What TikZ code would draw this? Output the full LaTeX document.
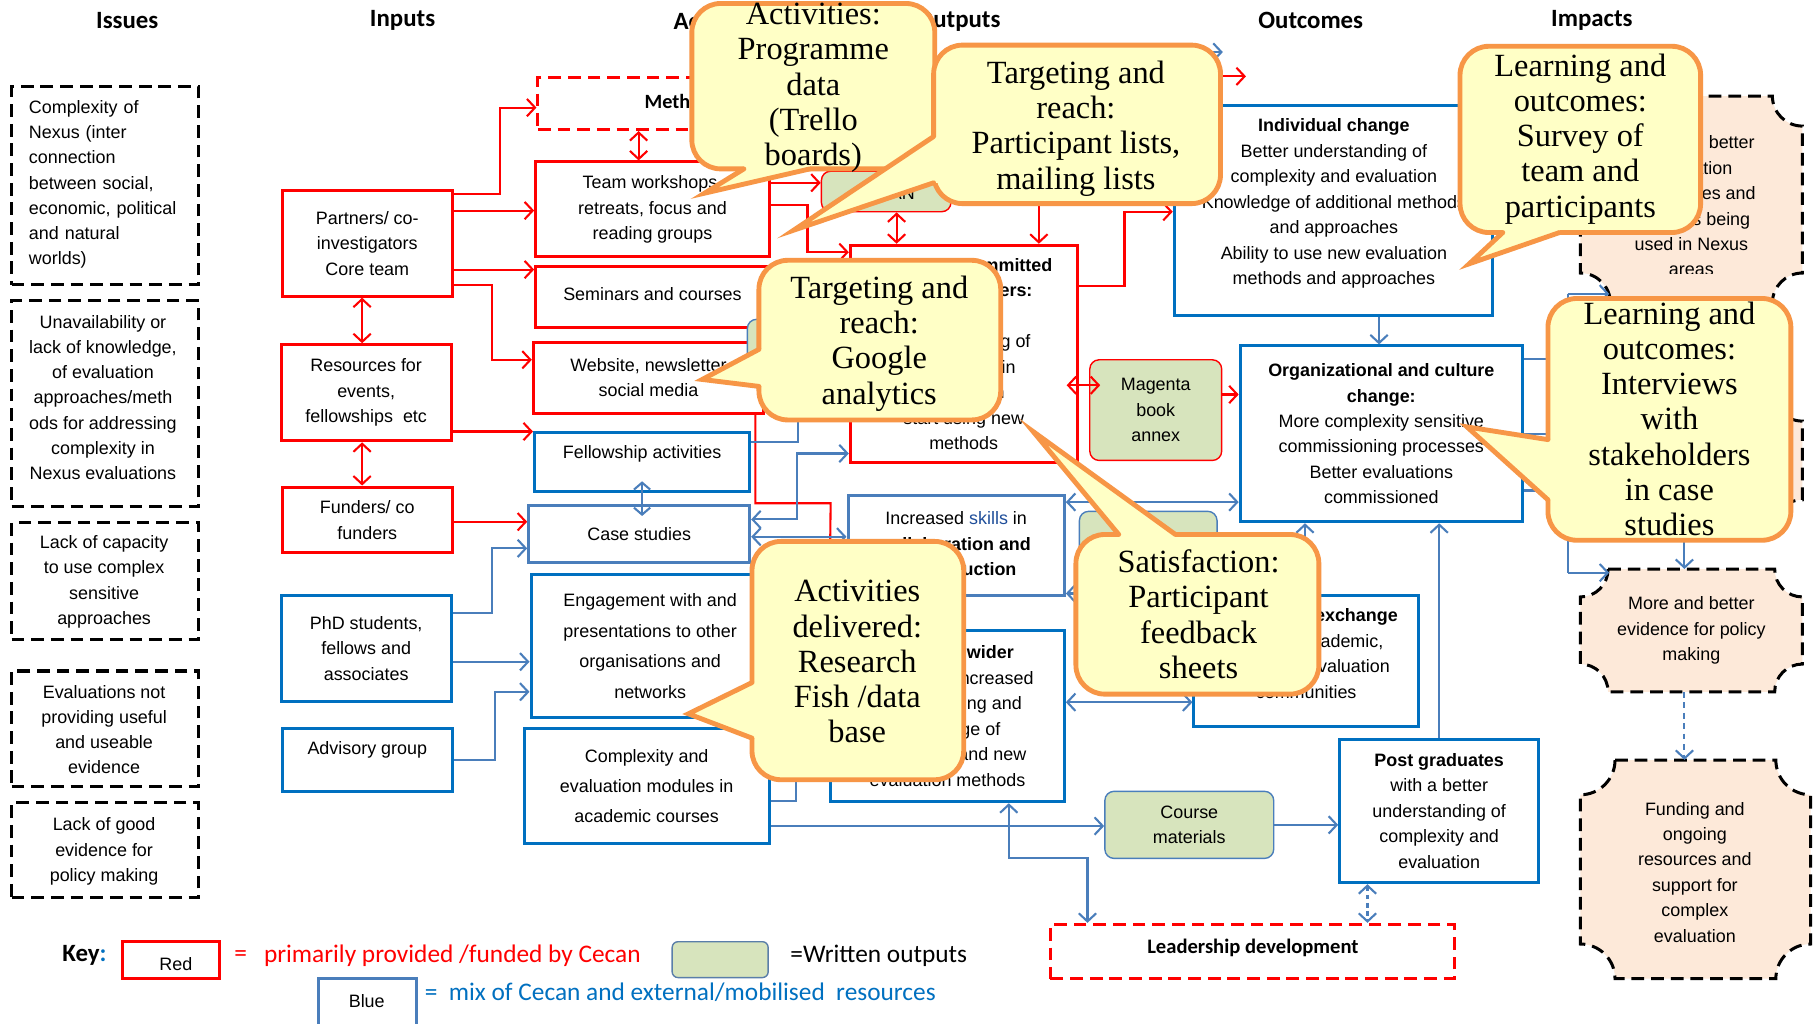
\documentclass[tikz,border=0pt]{standalone}
\usepackage{fontspec}
\setsansfont{Liberation Sans}
\newfontfamily\calfont{Carlito}
\newfontfamily\serfont{Liberation Serif}
\usetikzlibrary{arrows.meta,calc}

\definecolor{cred}{HTML}{FF0000}
\definecolor{cblue}{HTML}{0070C0}
\definecolor{clblue}{HTML}{4A7EBB}
\definecolor{cgreen}{HTML}{D7E4BD}
\definecolor{cpeach}{HTML}{FDE9D9}
\definecolor{cyel}{HTML}{FFFFC6}
\definecolor{corange}{HTML}{F79646}
\definecolor{cnavy}{HTML}{1F4E9A}

\newcommand{\bxf}{\sffamily\fontsize{15.5}{22}\selectfont}
\newcommand{\bxfw}{\sffamily\fontsize{15.5}{26.3}\selectfont}
\newcommand{\isf}{\sffamily\fontsize{15.5}{21.8}\selectfont}
\newcommand{\hdf}{\calfont\bfseries\fontsize{21.5}{24}\selectfont}
\newcommand{\kyf}{\calfont\fontsize{21.9}{24}\selectfont}
\newcommand{\clf}{\serfont\fontsize{28}{30.5}\selectfont}

% plaque outline with concave corners: style, x0, y0, x1, y1, radius
\newcommand{\plaque}[6]{%
  \path[#1] ({#2+#6},#3) -- ({#4-#6},#3)
    .. controls ({#4-#6},{#3+0.552*#6}) and ({#4-0.552*#6},{#3+#6}) .. (#4,{#3+#6})
    -- (#4,{#5-#6})
    .. controls ({#4-0.552*#6},{#5-#6}) and ({#4-#6},{#5-0.552*#6}) .. ({#4-#6},#5)
    -- ({#2+#6},#5)
    .. controls ({#2+#6},{#5-0.552*#6}) and ({#2+0.552*#6},{#5-#6}) .. (#2,{#5-#6})
    -- (#2,{#3+#6})
    .. controls ({#2+0.552*#6},{#3+#6}) and ({#2+#6},{#3+0.552*#6}) .. cycle;}

% speech bubble: x0, y0, x1, y1, wedge base 1, wedge tip, wedge base 2, inward shift
\newcommand{\bubble}[8]{%
  \fill[cyel,rounded corners=25pt] (#1,#2) rectangle (#3,#4);
  \draw[corange,line width=4.2pt,rounded corners=25pt] (#1,#2) rectangle (#3,#4);
  \fill[cyel] ($(#5)+(#8)$) -- (#5) -- (#6) -- (#7) -- ($(#7)+(#8)$) -- cycle;
  \draw[corange,line width=4.2pt,line cap=round,line join=miter] (#5) -- (#6) -- (#7);}

\begin{document}
\begin{tikzpicture}[x=1pt,y=-1pt,
  sbox/.style={draw,line width=2.6pt,fill=white,align=center,inner sep=2pt,font=\bxf},
  redbox/.style={sbox,draw=cred},
  bluebox/.style={sbox,draw=cblue},
  lbluebox/.style={sbox,draw=clblue},
  issue/.style={draw=black,line width=2.6pt,dash pattern=on 11pt off 6pt,minimum width=162pt,inner sep=0pt},
  rdash/.style={draw=cred,line width=2.6pt,dash pattern=on 11pt off 6pt,inner sep=0pt},
  gbox/.style={fill=cgreen,rounded corners=8pt,line width=1.2pt,align=center,font=\bxf,inner sep=2pt},
  txt/.style={align=center,inner sep=0pt,font=\bxf},
  itxt/.style={align=center,inner sep=0pt,font=\isf},
  hdr/.style={inner sep=0pt,font=\hdf},
  ctext/.style={align=center,inner sep=0pt,font=\clf},
  bline/.style={draw=clblue,line width=1.8pt},
  rarr/.style={draw=cred,line width=1.8pt,-{Straight Barb[length=7pt,width=15pt]}},
  rdbl/.style={draw=cred,line width=1.8pt,{Straight Barb[length=7pt,width=15pt]}-{Straight Barb[length=7pt,width=15pt]}},
  barr/.style={draw=clblue,line width=1.8pt,-{Straight Barb[length=7pt,width=15pt]}},
  bdbl/.style={draw=clblue,line width=1.8pt,{Straight Barb[length=7pt,width=15pt]}-{Straight Barb[length=7pt,width=15pt]}},
  imp/.style={fill=cpeach,draw=black,line width=2.6pt,dash pattern=on 11pt off 6pt}
]
\useasboundingbox (0,0) rectangle (1568,885);
\fill[white] (0,0) rectangle (1568,885);

% column headings
\node[hdr] (hIssues) at (110,18) {Issues};
\node[hdr] (hInputs) at (348,18) {Inputs};
\node[hdr,anchor=west] (hAct) at (582,18) {Activities};
\node[hdr,anchor=east] (hOut) at (865,18) {Outputs};
\node[hdr] (hOutc) at (1133,18) {Outcomes};
\node[hdr] (hImp) at (1376,18) {Impacts};

% issues
\node[issue,minimum height=171pt] (is1) at (91,160.5) {};
\node[itxt,text width=136pt,align=left] (is1t) at (93,159.5) {Complexity of\\Nexus (inter\\connection\\between social,\\economic, political\\and natural\\worlds)};
\node[issue,minimum height=178pt] (is2) at (91,349) {};
\node[itxt] (is2t) at (89,343.5) {Unavailability or\\lack of knowledge,\\of evaluation\\approaches/meth\\ods for addressing\\complexity in\\Nexus evaluations};
\node[issue,minimum height=101pt] (is3) at (91,502.5) {};
\node[itxt] (is3t) at (90,503) {Lack of capacity\\to use complex\\sensitive\\approaches};
\node[issue,minimum height=100pt] (is4) at (91,630) {};
\node[itxt] (is4t) at (90,630.5) {Evaluations not\\providing useful\\and useable\\evidence};
\node[issue,minimum height=82pt] (is5) at (91,735) {};
\node[itxt] (is5t) at (90,736) {Lack of good\\evidence for\\policy making};

% inputs
\node[redbox,minimum width=147pt,minimum height=91pt] (partners) at (317.5,210.5) {Partners/ co-\\investigators\\Core team};
\node[redbox,minimum width=147pt,minimum height=83pt] (resources) at (316.5,339.5) {Resources for\\events,\\fellowships\ \ etc};
\node[redbox,minimum width=147pt,minimum height=57pt] (funders) at (317.5,449.5) {Funders/ co\\funders};
\node[bluebox,minimum width=147pt,minimum height=91pt] (phd) at (316.5,560.5) {PhD students,\\fellows and\\associates};
\node[bluebox,minimum width=147pt,minimum height=54pt] (advisory) at (317.5,657) {};
\node[txt] (advisoryT) at (317.5,648) {Advisory group};

% activities
\node[rdash,minimum width=200pt,minimum height=45pt] (methods) at (565,89.5) {};
\node[anchor=west,inner sep=0pt,font=\calfont\bfseries\fontsize{17.5}{20}\selectfont] (methodsT) at (557,88) {Methods};
\node[redbox,minimum width=202pt,minimum height=82pt] (team) at (564,181) {Team workshops,\\retreats, focus and\\reading groups};
\node[redbox,minimum width=202pt,minimum height=53pt] (seminars) at (564,256.5) {};
\node[txt] (seminarsT) at (564,254) {Seminars and courses};
\node[redbox,minimum width=199pt,minimum height=61pt] (website) at (560.5,326.5) {Website, newsletter\\social media};
\node[bluebox,minimum width=186pt,minimum height=51pt] (fellowship) at (555,399.5) {};
\node[txt] (fellowshipT) at (555,392) {Fellowship activities};
\node[lbluebox,minimum width=191pt,minimum height=49pt] (casest) at (552.5,461.5) {Case studies};
\node[bluebox,minimum width=206pt,minimum height=123pt,font=\bxfw] (engage) at (562,558.5) {Engagement with and\\presentations to other\\organisations and\\networks};
\node[bluebox,minimum width=212pt,minimum height=99pt,font=\bxfw] (modules) at (559,679.5) {Complexity and\\evaluation modules in\\academic courses};

% outputs
\node[gbox,draw=clblue,minimum width=114pt,minimum height=59pt] (greend) at (703,305.5) {};
\node[gbox,draw=cred,minimum width=112pt,minimum height=35pt] (nbox) at (766,165.5) {};
\node[txt,anchor=east] (nboxT) at (791,167) {CECAN};
\node[redbox,minimum width=196pt,minimum height=188pt] (committed) at (833,306) {\textbf{Informed, committed}\\\textbf{commissioners:}\\~\\understanding of\\complexity in\\evaluation\\start using new\\methods};
\node[gbox,draw=cred,minimum width=114pt,minimum height=87pt] (magenta) at (999,354.5) {Magenta\\book\\annex};
\node[lbluebox,minimum width=187pt,minimum height=87pt] (skills) at (826.5,471.5) {Increased \textcolor{cnavy}{skills} in\\\textbf{collaboration and}\\\textbf{co-production}};
\node[gbox,draw=clblue,minimum width=119pt,minimum height=48pt] (greenc) at (992.5,466) {};
\node[bluebox,minimum width=202pt,minimum height=148pt] (wider) at (819,619) {\textbf{Reaching wider}\\audiences: Increased\\understanding and\\knowledge of\\complexity and new\\evaluation methods};
\node[bluebox,minimum width=194pt,minimum height=113pt] (knowledge) at (1129,571.5) {};
\node[txt] (knowledgeT) at (1129,565) {\textbf{Knowledge exchange}\\between academic,\\policy and evaluation\\communities};
\node[gbox,draw=clblue,minimum width=146pt,minimum height=58pt] (course) at (1028,713) {Course\\materials};
\node[rdash,minimum width=349pt,minimum height=47pt] (leader) at (1082.5,822.5) {};
\node[inner sep=0pt,font=\calfont\bfseries\fontsize{17.8}{20}\selectfont] (leaderT) at (1083,819) {Leadership development};

% outcomes
\node[bluebox,minimum width=275pt,minimum height=182pt] (indiv) at (1152.5,182) {};
\node[txt] (indivT) at (1153,176) {\textbf{Individual change}\\Better understanding of\\complexity and evaluation\\Knowledge of additional methods\\and approaches\\Ability to use new evaluation\\methods and approaches};
\node[bluebox,minimum width=244pt,minimum height=152pt] (org) at (1194,375) {\textbf{Organizational and culture}\\\textbf{change:}\\More complexity sensitive\\commissioning processes\\Better evaluations\\commissioned};
\node[bluebox,minimum width=172pt,minimum height=124pt] (postg) at (1244,701) {\textbf{Post graduates}\\with a better\\understanding of\\complexity and\\evaluation};

% impacts
\plaque{imp}{1366}{83}{1558}{262}{26}
\node[inner sep=0pt,minimum width=192pt,minimum height=179pt] (imp1) at (1462,172.5) {};
\begin{scope}
  \clip (1366,83) rectangle (1558,236);
  \node[txt] (imp1T) at (1462,178) {More and better\\evaluation\\approaches and\\methods being\\used in Nexus\\areas};
\end{scope}
\plaque{imp}{1366}{338}{1558}{458}{26}
\node[inner sep=0pt,minimum width=192pt,minimum height=120pt] (imp2) at (1462,398) {};
\plaque{imp}{1366}{492}{1558}{598}{24}
\node[inner sep=0pt,minimum width=192pt,minimum height=106pt] (imp3) at (1462,545) {};
\node[txt] (imp3T) at (1462,545) {More and better\\evidence for policy\\making};
\plaque{imp}{1366}{657}{1565}{846}{30}
\node[inner sep=0pt,minimum width=199pt,minimum height=189pt] (imp4) at (1465.5,751.5) {};
\node[txt] (imp4T) at (1465,754) {Funding and\\ongoing\\resources and\\support for\\complex\\evaluation};

% inputs to activities
\draw[rarr] (partners.east |- 0,168) -| (432,93) -- (methods.west |- 0,93);
\draw[rarr] (partners.east |- 0,182) -- (team.west |- 0,182);
\draw[rarr] (partners.east |- 0,233) -- (seminars.west |- 0,233);
\draw[rarr] (partners.east |- 0,246) -| (425,311) -- (website.west |- 0,311);
\draw[rdbl] (partners.south -| 313,0) -- (resources.north -| 313,0);
\draw[rdbl] (resources.south -| 313,0) -- (funders.north -| 313,0);
\draw[rarr] (resources.east |- 0,373) -- (fellowship.west |- 0,373);
\draw[rarr] (funders.east |- 0,451) -- (casest.west |- 0,451);
\draw[barr] (phd.east |- 0,530) -| (425,474) -- (casest.west |- 0,474);
\draw[barr] (phd.east |- 0,572) -- (engage.west |- 0,572);
\draw[barr] (advisory.east |- 0,657) -| (428,598) -- (engage.west |- 0,598);

% activities to outputs
\draw[rdbl] (methods.south -| 552,0) -- (team.north -| 552,0);
\coordinate (fa) at (555,416);
\coordinate (fb) at (555,446);
\draw[draw=clblue,line width=1.8pt,{Straight Barb[length=6pt,width=14pt]}-{Straight Barb[length=6pt,width=14pt]}] (fa) -- (fb);
\draw[rarr] (team.east |- 0,158) -- (nbox.west |- 0,158);
\draw[rarr] (team.east |- 0,177) -| (698,218) -- (committed.west |- 0,218);
\draw[rarr] (website.south -| 653,0) |- (718,435) -- (wider.north west);
\draw[barr] (fellowship.east |- 0,382) -| (greend.south -| 690,0);
\draw[bdbl] (casest.east |- 0,449) -| (689,392) -- (committed.west |- 0,392);
\draw[bdbl] (casest.east |- 0,464) -- (skills.west |- 0,464);
\draw[barr] (modules.east |- 0,692) -| (688,620) -- (wider.west |- 0,620);
\draw[barr] (modules.east |- 0,714) -- (course.west |- 0,714);
\draw[bdbl] (wider.south -| 872,0) |- (940,742) -- (leader.north -| 940,0);

% outputs to outcomes
\draw[rdbl] (nbox.south -| 775,0) -- (committed.north -| 775,0);
\coordinate (cA) at (898,150);
\draw[rarr] (cA) -- (committed.north -| cA);
\draw[rarr] (committed.east |- 0,247) -| (972,183) -- (indiv.west |- 0,183);
\coordinate (ma) at (922,333);
\coordinate (mb) at (951,333);
\draw[rdbl] (ma) -- (mb);
\draw[rarr] (magenta.east |- 0,341) -- (org.west |- 0,341);
\coordinate (cB) at (1030,66);
\coordinate (cBe) at (1077,66);
\draw[rarr] (cB) -- (cBe);
\coordinate (cC) at (1000,45);
\coordinate (cCe) at (1057,45);
\draw[barr] (cC) -- (cCe);
\draw[bdbl] (skills.east |- 0,434) -- (org.west |- 0,434);
\draw[bdbl] (wider.east |- 0,607) -- (knowledge.west |- 0,607);
\coordinate (cD) at (990,513);
\draw[barr] (cD) -- (skills.east |- cD);
\draw[barr] (knowledge.north -| 1128,0) -- (org.south -| 1128,0);
\draw[barr] (course.east) -- (postg.west |- course.east);
\draw[bdbl,dash pattern=on 4pt off 3pt] (postg.south -| 1182,0) -- (leader.north -| 1182,0);
\draw[barr] (postg.north -| 1244,0) -- (org.south -| 1244,0);
\draw[barr] (indiv.south -| 1192,0) -- (org.north -| 1192,0);

% outcomes to impacts
\coordinate (bus1) at (1355,254);
\coordinate (bus2) at (1355,495);
\draw[bline] (org.east |- 0,310) -- (bus1 |- 0,310);
\draw[bline] (org.east |- 0,375) -- (bus1 |- 0,375);
\draw[bline] (org.east |- 0,424) -- (bus1 |- 0,424);
\draw[bline] (bus1) -- (bus2);
\draw[barr] (bus1) -- ++(36,0);
\draw[barr] (bus2) -- ++(36,0);
\draw[barr] (bus1 |- 0,400) -- (imp2.west |- 0,400);
\draw[barr] (imp2.south -| 1456,0) -- (imp3.north -| 1456,0);
\draw[barr,dash pattern=on 5pt off 4pt] (imp3.south -| 1456,0) -- (imp4.north -| 1456,0);

% evaluation evidence sources
\bubble{598}{3}{808}{146}{643,146}{609,167}{700,146}{0,-6}
\node[ctext] (c1t) at (703,76) {Activities:\\Programme\\data\\(Trello\\boards)};
\bubble{807}{39}{1055}{176}{807,118}{686,199}{807,158}{6,0}
\node[ctext] (c2t) at (930,111) {Targeting and\\reach:\\Participant lists,\\mailing lists};
\bubble{656}{225}{865}{363}{656,302}{607,328}{656,334}{6,0}
\node[ctext] (c3t) at (760,297) {Targeting and\\reach:\\Google\\analytics};
\bubble{650}{468}{833}{674}{650,590}{595,617}{650,638}{6,0}
\node[ctext] (c4t) at (741,572) {Activities\\delivered:\\Research\\Fish /data\\base};
\bubble{930}{462}{1140}{600}{967,462}{893,373}{1016,462}{0,6}
\node[ctext] (c5t) at (1036,531) {Satisfaction:\\Participant\\feedback\\sheets};
\bubble{1262}{40}{1470}{201}{1299,201}{1270,228}{1348,201}{0,-6}
\node[ctext] (c6t) at (1366,120) {Learning and\\outcomes:\\Survey of\\team and\\participants};
\bubble{1338}{258}{1548}{467}{1338,380}{1268,369}{1338,432}{6,0}
\node[ctext] (c7t) at (1443,362) {Learning and\\outcomes:\\Interviews\\with\\stakeholders\\in case\\studies};

% key
\node[inner sep=0pt,font=\hdf] (keyT) at (73,826) {Key\textcolor{cblue}{:}};
\node[draw=cred,line width=2.6pt,minimum width=84pt,minimum height=32pt,inner sep=0pt] (keyred) at (148,830) {};
\node[txt] (keyredT) at (152,833) {Red};
\node[inner sep=0pt,text=cred,font=\kyf] (keyredEq) at (208,826) {=};
\node[anchor=west,inner sep=0pt,text=cred,font=\kyf] (keyredD) at (228,826) {primarily provided /funded by Cecan};
\node[fill=cgreen,draw=clblue!70!gray,rounded corners=5pt,line width=1.2pt,minimum width=83pt,minimum height=31pt,inner sep=0pt] (keygreen) at (622.5,829.5) {};
\node[anchor=west,inner sep=0pt,font=\kyf] (keygreenD) at (683,826) {=Written outputs};
\node[draw=clblue,line width=2.6pt,minimum width=85pt,minimum height=48pt,inner sep=0pt] (keyblue) at (317.5,870) {};
\node[txt] (keyblueT) at (317,865) {Blue};
\node[anchor=west,inner sep=0pt,text=cblue,font=\kyf] (keyblueD) at (367,858) {=\ \ mix of Cecan and external/mobilised\ \ resources};
\end{tikzpicture}
\end{document}
